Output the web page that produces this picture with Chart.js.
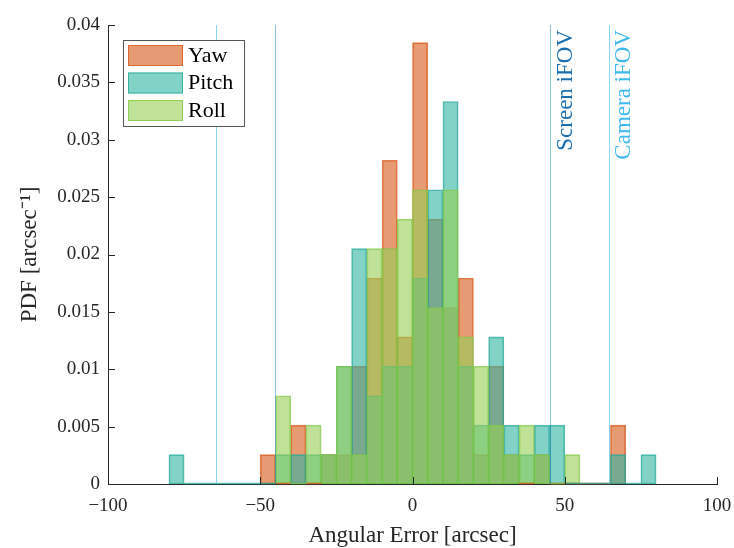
<!DOCTYPE html>
<html>
<head>
<meta charset="utf-8">
<script src="https://cdn.jsdelivr.net/npm/chart.js@4.4.1/dist/chart.umd.min.js"></script>
<style>
  html, body { margin: 0; padding: 0; background: #fff; }
  #wrap { width: 734px; height: 548px; }
</style>
</head>
<body>
<div id="wrap"><canvas id="chart" width="734" height="548"></canvas></div>
<script>
'use strict';

// bin centres, 5 arcsec wide bins from -80 to 80
const binCenters = [-77.5, -72.5, -67.5, -62.5, -57.5, -52.5, -47.5, -42.5,
  -37.5, -32.5, -27.5, -22.5, -17.5, -12.5, -7.5, -2.5,
  2.5, 7.5, 12.5, 17.5, 22.5, 27.5, 32.5, 37.5,
  42.5, 47.5, 52.5, 57.5, 62.5, 67.5, 72.5, 77.5];

// PDF values
const yawPdf = [0, 0, 0, 0, 0, 0, 0.00256, 0,
  0.00513, 0, 0.00256, 0.00256, 0.01026, 0.01795, 0.02821, 0.01282,
  0.03846, 0.02308, 0.01538, 0.01795, 0.00256, 0.01026, 0.00256, 0,
  0.00256, 0, 0, 0, 0, 0.00513, 0, 0];
const pitchPdf = [0.00256, 0, 0, 0, 0, 0, 0, 0.00256,
  0.00256, 0.00256, 0.00256, 0.01026, 0.02051, 0.00769, 0.01026, 0.01026,
  0.01795, 0.02564, 0.03333, 0.01026, 0.00513, 0.01282, 0.00513, 0.00256,
  0.00513, 0.00513, 0, 0, 0, 0.00256, 0, 0.00256];
const rollPdf = [0, 0, 0, 0, 0, 0, 0, 0.00769,
  0, 0.00513, 0.00256, 0.01026, 0.00256, 0.02051, 0.02051, 0.02308,
  0.02564, 0.01538, 0.02564, 0.01282, 0.01026, 0.00513, 0.00256, 0.00513,
  0.00256, 0, 0.00256, 0, 0, 0, 0, 0];

const seriesNames = ['Yaw', 'Pitch', 'Roll'];
const xTicks = [-100, -50, 0, 50, 100];
const yTicks = [0, 0.005, 0.01, 0.015, 0.02, 0.025, 0.03, 0.035, 0.04];

const screenFov = 45.3;
const cameraFov = 64.5;

const serif = '"Liberation Serif", "Times New Roman", serif';
const axisColor = '#262626';

function toPoints(values) {
  return values.map((v, i) => ({ x: binCenters[i], y: v }));
}

function fmtX(v) {
  return v < 0 ? '\u2212' + Math.abs(v) : String(v);
}

const fovLines = [
  { value: screenFov, label: 'Screen iFOV', line: 'rgba(0,114,189,0.45)', text: '#1b6fb0' },
  { value: cameraFov, label: 'Camera iFOV', line: 'rgba(77,190,238,0.65)', text: '#3fb9ec' },
];

// empty bins inside each histogram's range still get their edge drawn
const emptyBinPlugin = {
  id: 'emptyBins',
  afterDatasetsDraw(chart) {
    const { ctx, scales: { x, y } } = chart;
    const half = (binCenters[1] - binCenters[0]) / 2;
    const base = y.getPixelForValue(0) - 0.5;
    ctx.save();
    ctx.lineWidth = 1.5;
    chart.data.datasets.forEach(ds => {
      const vals = ds.data.map(p => p.y);
      const first = vals.findIndex(v => v > 0);
      const last = vals.length - 1 - [...vals].reverse().findIndex(v => v > 0);
      ctx.strokeStyle = ds.borderColor;
      ctx.beginPath();
      for (let i = first; i <= last; i++) {
        if (vals[i] > 0) continue;
        ctx.moveTo(x.getPixelForValue(binCenters[i] - half), base);
        ctx.lineTo(x.getPixelForValue(binCenters[i] + half), base);
      }
      ctx.stroke();
    });
    ctx.restore();
  },
};

const fovPlugin = {
  id: 'fov',
  afterDatasetsDraw(chart) {
    const { ctx, chartArea, scales: { x, y } } = chart;
    fovLines.forEach(fov => {
      ctx.save();
      ctx.strokeStyle = fov.line;
      ctx.lineWidth = 1;
      [-fov.value, fov.value].forEach(v => {
        const px = Math.round(x.getPixelForValue(v)) + 0.5;
        ctx.beginPath();
        ctx.moveTo(px, y.getPixelForValue(0));
        ctx.lineTo(px, y.getPixelForValue(0.04));
        ctx.stroke();
      });
      ctx.translate(x.getPixelForValue(fov.value) + 4, chartArea.top + 5);
      ctx.rotate(-Math.PI / 2);
      ctx.textAlign = 'right';
      ctx.textBaseline = 'top';
      ctx.fillStyle = fov.text;
      ctx.font = '23px ' + serif;
      ctx.fillText(fov.label, 0, 0);
      ctx.restore();
    });
  },
};

// MATLAB style inward ticks
const tickPlugin = {
  id: 'inTicks',
  afterDraw(chart) {
    const { ctx, chartArea, scales: { x, y } } = chart;
    ctx.save();
    ctx.strokeStyle = axisColor;
    ctx.lineWidth = 1;
    ctx.beginPath();
    yTicks.forEach(t => {
      const py = Math.round(y.getPixelForValue(t)) + 0.5;
      ctx.moveTo(chartArea.left, py);
      ctx.lineTo(chartArea.left + 7, py);
    });
    xTicks.forEach(t => {
      const px = Math.round(x.getPixelForValue(t)) + 0.5;
      ctx.moveTo(px, chartArea.bottom);
      ctx.lineTo(px, chartArea.bottom - 7);
    });
    ctx.stroke();
    ctx.restore();
  },
};

const legendPlugin = {
  id: 'boxLegend',
  afterDraw(chart) {
    const { ctx, chartArea } = chart;
    const left = chartArea.left + 15;
    const top = chartArea.top + 15;
    ctx.save();
    ctx.fillStyle = '#fff';
    ctx.fillRect(left, top, 121, 86);
    ctx.strokeStyle = '#555';
    ctx.lineWidth = 1;
    ctx.strokeRect(left + 0.5, top + 0.5, 121, 86);
    chart.data.datasets.forEach((ds, i) => {
      const rowY = top + 5 + i * 27.5;
      ctx.fillStyle = ds.backgroundColor;
      ctx.fillRect(left + 5, rowY, 55, 21);
      ctx.strokeStyle = ds.borderColor;
      ctx.strokeRect(left + 5.5, rowY + 0.5, 54, 20);
      ctx.fillStyle = '#000';
      ctx.font = '22px ' + serif;
      ctx.textAlign = 'left';
      ctx.textBaseline = 'middle';
      ctx.fillText(ds.label, left + 65, rowY + 11);
    });
    ctx.restore();
  },
};

function onContentLoad() {
  const canvas = document.getElementById('chart');
  const ctx = canvas.getContext('2d');

  new Chart(ctx, {
    type: 'bar',
    data: {
      datasets: [
        {
          label: seriesNames[0],
          data: toPoints(yawPdf),
          backgroundColor: 'rgba(215,88,22,0.6)',
          borderColor: 'rgba(217,83,25,0.75)',
          order: 3,
        },
        {
          label: seriesNames[1],
          data: toPoints(pitchPdf),
          backgroundColor: 'rgba(48,180,162,0.6)',
          borderColor: 'rgba(30,165,148,0.75)',
          order: 2,
        },
        {
          label: seriesNames[2],
          data: toPoints(rollPdf),
          backgroundColor: 'rgba(150,207,84,0.6)',
          borderColor: 'rgba(125,200,70,0.75)',
          order: 1,
        },
      ],
    },
    options: {
      responsive: false,
      animation: false,
      events: [],
      datasets: {
        bar: {
          grouped: false,
          barPercentage: 1,
          categoryPercentage: 1,
          borderWidth: 1,
          borderSkipped: false,
        },
      },
      layout: { padding: { top: 25, right: 17, left: 0, bottom: 0 } },
      plugins: {
        legend: { display: false },
        tooltip: { enabled: false },
      },
      scales: {
        x: {
          type: 'linear',
          min: -100,
          max: 100,
          offset: false,
          afterFit(scale) {
            scale.height = 64;
            scale.paddingLeft = 0;
            scale.paddingRight = 0;
          },
          afterBuildTicks(scale) { scale.ticks = xTicks.map(v => ({ value: v })); },
          grid: { display: false, drawTicks: false, offset: false },
          border: { display: true, color: axisColor, width: 1 },
          ticks: {
            color: axisColor,
            padding: 11,
            maxRotation: 0,
            font: { family: serif, size: 19 },
            callback: v => fmtX(v),
          },
          title: {
            display: true,
            text: 'Angular Error [arcsec]',
            color: axisColor,
            font: { family: serif, size: 23, lineHeight: 1 },
            padding: { top: 0, bottom: 1 },
          },
        },
        y: {
          min: 0,
          max: 0.04,
          afterFit(scale) {
            scale.width = 108;
            scale.paddingTop = 0;
            scale.paddingBottom = 0;
          },
          afterBuildTicks(scale) { scale.ticks = yTicks.map(v => ({ value: v })); },
          grid: { display: false, drawTicks: false },
          border: { display: true, color: axisColor, width: 1 },
          ticks: {
            color: axisColor,
            padding: 8,
            font: { family: serif, size: 19 },
            callback: v => String(Number(v.toFixed(3))),
          },
          title: {
            display: true,
            text: 'PDF [arcsec\u207B\u00B9]',
            color: axisColor,
            font: { family: serif, size: 23, lineHeight: 1 },
            padding: { top: 18, bottom: 0 },
          },
        },
      },
    },
    plugins: [emptyBinPlugin, fovPlugin, tickPlugin, legendPlugin],
  });
}

document.addEventListener('DOMContentLoaded', onContentLoad);
</script>
</body>
</html>
